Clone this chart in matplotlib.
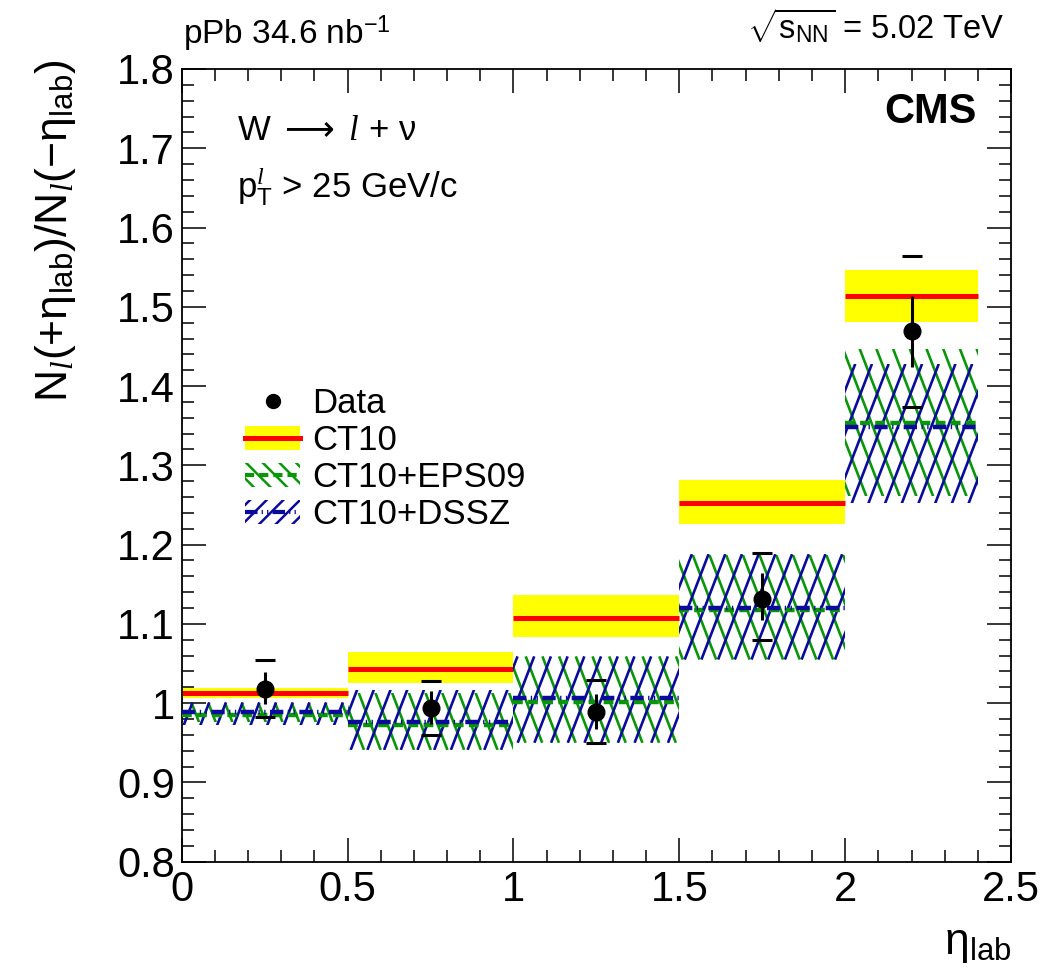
import numpy as np
import matplotlib
matplotlib.use('Agg')
import matplotlib.pyplot as plt
from matplotlib.patches import Rectangle, Patch
from matplotlib.lines import Line2D
from matplotlib.ticker import MultipleLocator, FormatStrFormatter

plt.rcParams['font.family'] = ['Liberation Sans', 'DejaVu Sans']
plt.rcParams['mathtext.fontset'] = 'custom'
plt.rcParams['mathtext.rm'] = 'Liberation Sans'
plt.rcParams['mathtext.it'] = 'Liberation Serif:italic'
plt.rcParams['mathtext.bf'] = 'Liberation Sans:bold'
plt.rcParams['mathtext.sf'] = 'DejaVu Sans'
plt.rcParams['hatch.linewidth'] = 1.8

# eta_lab bins
bin_edges = [0.0, 0.5, 1.0, 1.5, 2.0, 2.4]

# data points with stat (bar) and syst (brackets) errors
data_x = [0.25, 0.75, 1.25, 1.75, 2.2]
data_y = [1.018, 0.994, 0.989, 1.132, 1.469]
stat_up = [0.021, 0.021, 0.022, 0.032, 0.044]
stat_dn = [0.019, 0.020, 0.022, 0.027, 0.045]
syst_up = [0.036, 0.034, 0.040, 0.057, 0.095]
syst_dn = [0.035, 0.034, 0.039, 0.052, 0.095]

# CT10 prediction
ct10_mid = [1.013, 1.043, 1.108, 1.252, 1.514]
ct10_lo = [1.007, 1.026, 1.083, 1.226, 1.481]
ct10_hi = [1.019, 1.065, 1.137, 1.281, 1.546]

# CT10+EPS09
eps_mid = [0.985, 0.972, 1.001, 1.117, 1.353]
eps_lo = [0.976, 0.941, 0.950, 1.055, 1.261]
eps_hi = [1.000, 1.013, 1.059, 1.187, 1.447]

# CT10+DSSZ
dssz_mid = [0.989, 0.976, 1.007, 1.120, 1.348]
dssz_lo = [0.972, 0.941, 0.950, 1.055, 1.252]
dssz_hi = [1.001, 1.017, 1.059, 1.188, 1.428]

GREEN = '#0a960a'
BLUE = '#0a0a9c'


def hatch_band(ax, x0, x1, lo, hi, color, lean, shift=0.0, spacing=16.7, steep=2.6):
    # ROOT-like steep hatching, clipped to the band box
    box = Rectangle((x0, lo), x1 - x0, hi - lo, fill=False, linewidth=0)
    ax.add_patch(box)
    to_px = ax.transData
    (px0, py0), (px1, py1) = to_px.transform([(x0, lo), (x1, hi)])
    run = (py1 - py0) / steep
    first = np.floor((px0 - run) / spacing) * spacing + shift
    for s in np.arange(first, px1 + run, spacing):
        if lean > 0:
            seg = [(s, py0), (s + run, py1)]
        else:
            seg = [(s + run, py0), (s, py1)]
        (dx0, dy0), (dx1, dy1) = to_px.inverted().transform(seg)
        ln, = ax.plot([dx0, dx1], [dy0, dy1], color=color, lw=1.9,
                      solid_capstyle='butt', zorder=2)
        ln.set_clip_path(box)


fig = plt.figure(figsize=(10.45, 9.73), dpi=100)
ax = fig.add_axes([0.1739, 0.1144, 0.7936, 0.8147])
ax.set_xlim(0, 2.5)
ax.set_ylim(0.8, 1.8)

for i in range(len(ct10_mid)):
    x0, x1 = bin_edges[i], bin_edges[i + 1]
    ax.fill_between([x0, x1], ct10_lo[i], ct10_hi[i], color='yellow', lw=0, zorder=1)
    ax.plot([x0, x1], [ct10_mid[i]] * 2, color='red', lw=3.6, solid_capstyle='butt', zorder=1.5)

    hatch_band(ax, x0, x1, eps_lo[i], eps_hi[i], GREEN, -1, shift=8.0)
    hatch_band(ax, x0, x1, dssz_lo[i], dssz_hi[i], BLUE, 1)

    ax.plot([x0, x1], [eps_mid[i]] * 2, color=GREEN, lw=3.2,
            ls=(0, (2.2, 1.2)), zorder=3)
    ax.plot([x0, x1], [dssz_mid[i]] * 2, color=BLUE, lw=3.2,
            ls=(0, (3.0, 1.0, 0.3, 1.0, 0.3, 1.0)), zorder=3.1)

# data: systematic brackets then stat bars
ax.errorbar(data_x, data_y, yerr=[syst_dn, syst_up], fmt='none', elinewidth=0,
            ecolor='black', capsize=7.2, capthick=2.2, zorder=5)
ax.errorbar(data_x, data_y, yerr=[stat_dn, stat_up], fmt='o', color='black',
            markersize=12, elinewidth=2.2, capsize=0, zorder=6)

# axes styling (ROOT look)
ax.xaxis.set_major_locator(MultipleLocator(0.5))
ax.xaxis.set_minor_locator(MultipleLocator(0.1))
ax.yaxis.set_major_locator(MultipleLocator(0.1))
ax.yaxis.set_minor_locator(MultipleLocator(0.02))
ax.xaxis.set_major_formatter(FormatStrFormatter('%g'))
ax.yaxis.set_major_formatter(FormatStrFormatter('%g'))
ax.tick_params(which='both', direction='in', top=True, right=True, width=1.1)
ax.tick_params(which='major', length=17, labelsize=30)
ax.tick_params(which='minor', length=8.6)
ax.tick_params(axis='x', pad=6)
ax.tick_params(axis='y', pad=5)
for sp in ax.spines.values():
    sp.set_linewidth(1.3)

ax.text(1.0, -0.078, r'η$_{\mathrm{lab}}$', transform=ax.transAxes,
        ha='right', va='top', fontsize=32)
ax.text(-0.152, 1.012,
        r'N$_{\mathit{l}}$(+η$_{\mathrm{lab}}$)/N$_{\mathit{l}}$(−η$_{\mathrm{lab}}$)',
        transform=ax.transAxes, rotation=90, ha='center', va='top', fontsize=32)

fig.text(0.175, 1 - 44 / 973, r'pPb 34.6 nb$^{-1}$', fontsize=24, va='baseline')
fig.text(0.9617, 1 - 38 / 973, r'$\sqrt{\mathrm{s}_{\mathrm{NN}}}$ = 5.02 TeV',
         fontsize=23.5, ha='right', va='baseline')
fig.text(977 / 1045, 1 - 123 / 973, 'CMS', fontsize=30, fontweight='bold',
         ha='right', va='baseline')
fig.text(237 / 1045, 1 - 140 / 973, r'W $\mathsf{\longrightarrow}$ $\mathit{l}$ + ν',
         fontsize=25, va='baseline')
fig.text(237 / 1045, 1 - 197 / 973, r'p$_{\mathrm{T}}^{\mathit{l}}$ > 25 GeV/c',
         fontsize=25, va='baseline')

h_data = Line2D([], [], marker='o', color='black', ls='none', markersize=10)
h_ct10 = (Patch(facecolor='yellow', edgecolor='none'),
          Line2D([], [], color='red', lw=3.6))
h_eps = (Patch(facecolor='none', edgecolor=GREEN, hatch='\\\\', lw=0),
         Line2D([], [], color=GREEN, lw=3, ls=(0, (2.2, 1.2))))
h_dssz = (Patch(facecolor='none', edgecolor=BLUE, hatch='//', lw=0),
          Line2D([], [], color=BLUE, lw=3, ls=(0, (3.0, 1.0, 0.3, 1.0, 0.3, 1.0))))
ax.legend([h_data, h_ct10, h_eps, h_dssz], ['Data', 'CT10', 'CT10+EPS09', 'CT10+DSSZ'],
          loc='upper left', bbox_to_anchor=(0.076, 0.599), frameon=False,
          fontsize=25, handlelength=1.6, handletextpad=0.35, labelspacing=0.12,
          borderpad=0, borderaxespad=0)

fig.savefig('out.png', dpi=100)
